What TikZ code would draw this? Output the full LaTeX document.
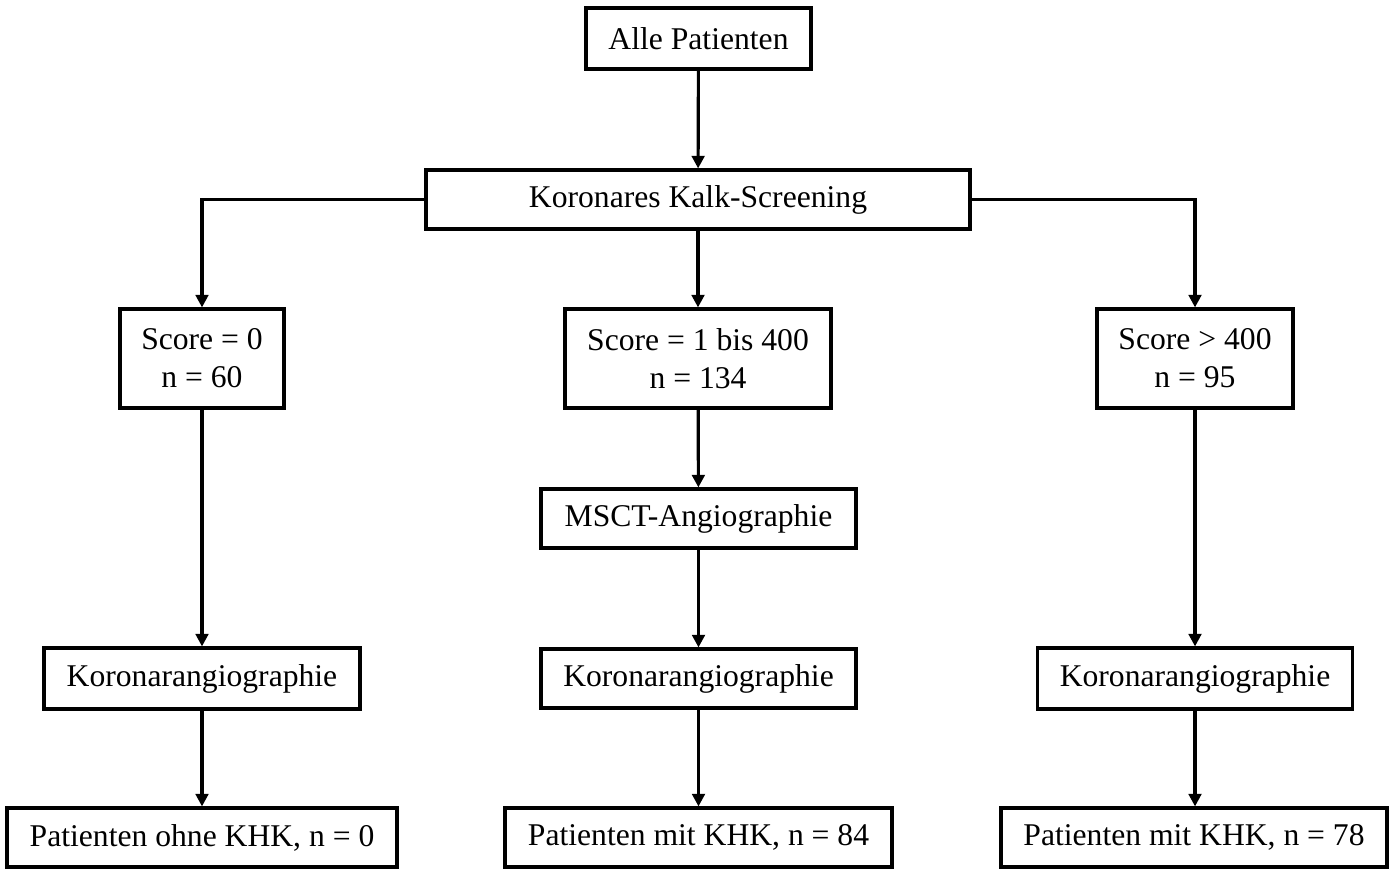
\documentclass[tikz,border=0pt]{standalone}
\usepackage{fontspec}
\setmainfont{Liberation Serif}
\usepackage{tikz}
\usetikzlibrary{calc,arrows.meta,positioning}

\begin{document}
\begin{tikzpicture}[x=1cm,y=-1cm]

\tikzset{flowbox/.style={draw=black,line width=0.9pt,font=\fontsize{9}{10.8}\selectfont,align=center,inner sep=0pt,minimum height=5.9mm},
flowarrow/.style={line width=0.9pt,-{Triangle[length=1.25mm,width=1.25mm]}}}

\useasboundingbox (0,0) rectangle (13.89,8.68);

% top
\node[flowbox,minimum width=22.5mm,minimum height=6.1mm] (alle) at (6.985,0.385) {Alle Patienten};
\node[flowbox,minimum width=54.4mm] (screen) at (6.98,1.995) {Koronares Kalk-Screening};

% score groups
\node[flowbox,minimum width=16.4mm,minimum height=9.9mm] (s0) at (2.02,3.585) {Score = 0\\n = 60};
\node[flowbox,minimum width=26.6mm,minimum height=9.9mm] (s1) at (6.98,3.585) {Score = 1 bis 400\\n = 134};
\node[flowbox,minimum width=19.6mm,minimum height=9.9mm] (s2) at (11.95,3.585) {Score > 400\\n = 95};

% angiography
\node[flowbox,minimum width=31.5mm] (msct) at (6.985,5.185) {MSCT-Angiographie};
\node[flowbox,minimum width=31.6mm,minimum height=6.1mm] (koroA) at (2.02,6.785) {Koronarangiographie};
\node[flowbox,minimum width=31.5mm] (koroB) at (6.985,6.785) {Koronarangiographie};
\node[flowbox,minimum width=31.5mm,minimum height=6.1mm] (koroC) at (11.95,6.785) {Koronarangiographie};

% results
\node[flowbox,minimum width=39mm] (resA) at (2.02,8.375) {Patienten ohne KHK, n = 0};
\node[flowbox,minimum width=38.7mm] (resB) at (6.985,8.375) {Patienten mit KHK, n = 84};
\node[flowbox,minimum width=38.6mm] (resC) at (11.94,8.375) {Patienten mit KHK, n = 78};

% Edges
\draw[flowarrow] (alle) -- (screen);
\draw[flowarrow] (screen.west) -| (s0.north);
\draw[flowarrow] (screen.south -| s1.north) -- (s1.north);
\draw[flowarrow] (screen.east) -| (s2.north);
\draw[flowarrow] (s0) -- (koroA); \draw[flowarrow] (s1) -- (msct); \draw[flowarrow] (msct) -- (koroB); \draw[flowarrow] (s2) -- (koroC);
\draw[flowarrow] (koroA) -- (resA); \draw[flowarrow] (koroB) -- (resB); \draw[flowarrow] (koroC.south) -- (koroC.south |- resC.north);

\end{tikzpicture}
\end{document}
